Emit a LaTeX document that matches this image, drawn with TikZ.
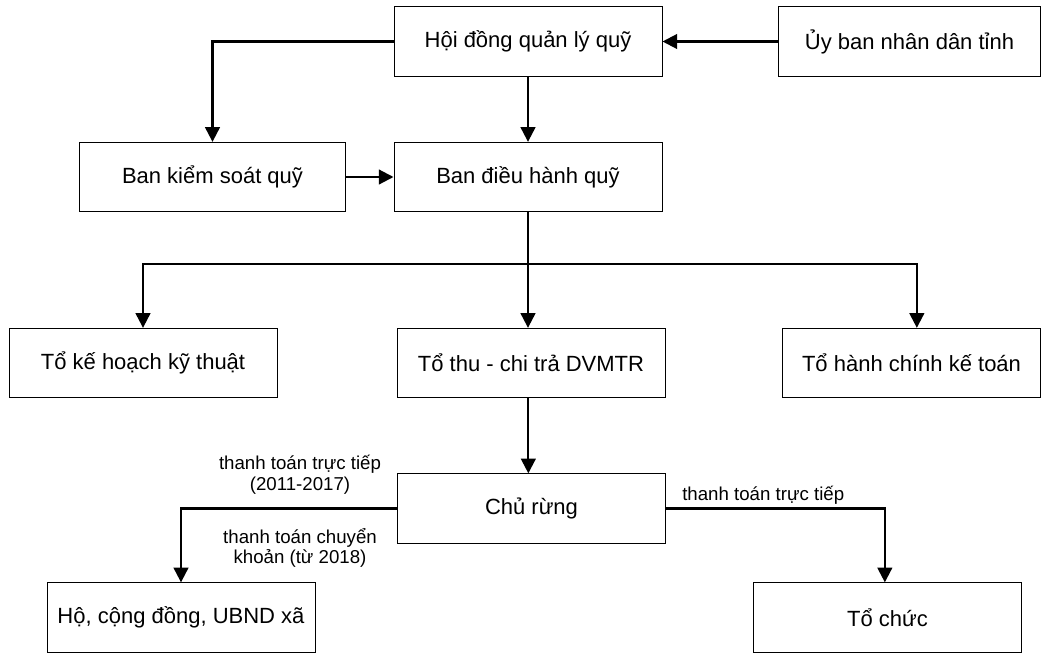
\documentclass[tikz,border=0pt]{standalone}
\usepackage{fontspec}
\setmainfont{Liberation Sans}
\usetikzlibrary{arrows.meta}
\begin{document}
\begin{tikzpicture}[
    x=0.75pt, y=-0.75pt,
    unit/.style={rectangle, draw, line width=0.75pt, minimum width=201pt,
        minimum height=52pt, inner sep=0pt, font=\fontsize{16.5}{19}\selectfont},
    link/.style={draw, line width=1.6pt, -{Triangle[length=11pt,width=11pt]}},
    pay/.style={align=center, inner sep=0pt, font=\fontsize{14}{15.5}\selectfont}
]
\useasboundingbox (0,0) rectangle (1041,653);

\node (HoiDong) [unit] at (528,41.5) {Hội đồng quản lý quỹ};
\node (UyBan) [unit, minimum width=196pt] at (909.5,41.5) {Ủy ban nhân dân tỉnh};
\node (KiemSoat) [unit, minimum width=200pt] at (212.5,177) {Ban kiểm soát quỹ};
\node (DieuHanh) [unit] at (528,177) {Ban điều hành quỹ};
\node (KeHoach) [unit] at (143,363) {Tổ kế hoạch kỹ thuật};
\node (ThuChi) [unit] at (531,363) {Tổ thu - chi trả DVMTR};
\node (HanhChinh) [unit, minimum width=193pt] at (911.5,363) {Tổ hành chính kế toán};
\node (ChuRung) [unit] at (531.5,508.5) {Chủ rừng};
\node (HoDan) [unit] at (181,617.5) {Hộ, cộng đồng, UBND xã};
\node (ToChuc) [unit] at (887.5,617.5) {Tổ chức};

\coordinate (Split) at (528,264);

\draw [link] (UyBan) -- (HoiDong);
\draw [link] (HoiDong.west) -| (KiemSoat.north);
\draw [link] (HoiDong) -- (DieuHanh);
\draw [link] (KiemSoat) -- (DieuHanh);

\draw [line width=1.6pt] (DieuHanh.south) -- (Split);
\draw [link] (Split) -| (KeHoach.north);
\draw [link] (Split) -- (Split |- ThuChi.north);
\draw [link] (Split) -| ([xshift=4pt]HanhChinh.north);

\draw [link] ([xshift=-2pt]ThuChi.south) -- ([xshift=-2pt]ThuChi.south |- ChuRung.north);
\draw [link] (ChuRung.west) -| (HoDan.north);
\draw [link] (ChuRung.east) -| ([xshift=-2pt]ToChuc.north);

% payment labels
\node (TrucTiepCu) [pay] at (300,475) {thanh toán trực tiếp\\(2011-2017)};
\node (ChuyenKhoan) [pay] at (300,548) {thanh toán chuyển\\khoản (từ 2018)};
\node (TrucTiep) [pay, anchor=west] at (682,495) {thanh toán trực tiếp};

\end{tikzpicture}
\end{document}
